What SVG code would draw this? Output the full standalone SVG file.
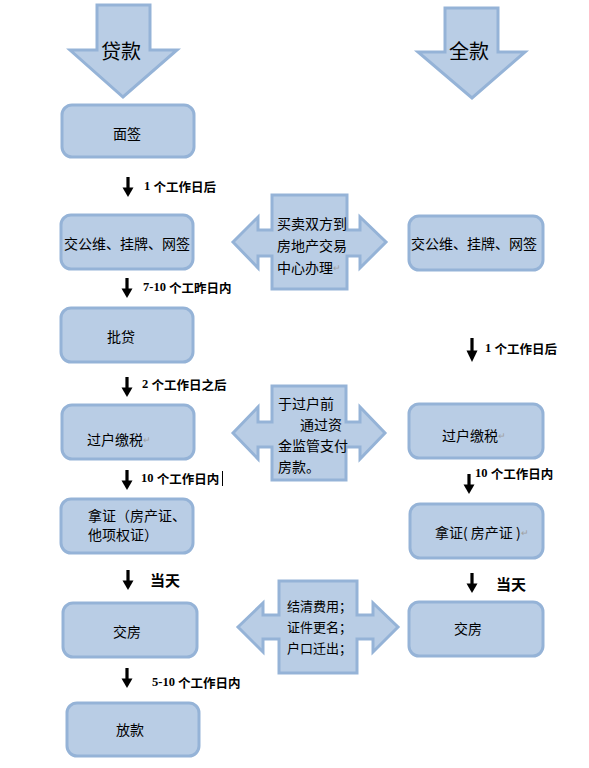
<svg xmlns="http://www.w3.org/2000/svg" width="589" height="768" viewBox="0 0 589 768">
<style>
.shape{fill:#b9cde5;stroke:#95b3d7;stroke-width:3;stroke-linejoin:miter}
.box{fill:#b9cde5;stroke:#95b3d7;stroke-width:3}
.t{font-family:"Noto Sans CJK SC","Noto Sans",sans-serif;font-size:14px;fill:#000;dominant-baseline:central}
.big{font-family:"Noto Sans CJK SC","Noto Sans",sans-serif;font-size:20px;fill:#000;dominant-baseline:central;text-anchor:middle}
.c{text-anchor:middle}
.lbl{font-family:"Noto Sans CJK SC","Noto Sans",sans-serif;font-size:12.5px;font-weight:bold;fill:#000;dominant-baseline:central}
.num{font-family:"Liberation Serif",serif;font-weight:bold}
.pm{fill:#a0a0a0;font-size:9px}
</style>
<defs>
<g id="darr">
<rect x="-1.6" y="0" width="3.2" height="12" fill="#000"/>
<polygon points="-5.5,10.5 5.5,10.5 0,20" fill="#000"/>
</g>
</defs>
<g id="loan-head">
<path class="shape" d="M97,5 L150,5 L150,50 L177,50 L123,97 L70,50 L97,50 Z"/>
<text class="big" x="121" y="50">贷款</text>
</g>
<g id="cash-head">
<path class="shape" d="M445,8 L498,8 L498,52 L525,52 L472,98 L418,52 L445,52 Z"/>
<text class="big" x="469" y="50">全款</text>
</g>
<g id="mianqian">
<rect class="box" x="62" y="105" width="132" height="52" rx="10"/>
<text class="t c" x="127" y="133">面签</text>
</g>
<g id="jiaogongwei-l">
<rect class="box" x="61" y="215" width="132" height="54" rx="10"/>
<text class="t c" x="127" y="243">交公维、挂牌、网签</text>
</g>
<g id="pidai">
<rect class="box" x="61" y="308" width="132" height="54" rx="10"/>
<text class="t c" x="121" y="336">批贷</text>
</g>
<g id="guohu-l">
<rect class="box" x="62" y="405" width="132" height="54" rx="10"/>
<text class="t" x="87" y="439">过户缴税<tspan class="pm">↵</tspan></text>
</g>
<g id="nazheng-l">
<rect class="box" x="61" y="499" width="132" height="54" rx="10"/>
<text class="t" x="88" y="515">拿证（房产证、</text>
<text class="t" x="88" y="534">他项权证）</text>
</g>
<g id="jiaofang-l">
<rect class="box" x="63" y="603" width="134" height="54" rx="10"/>
<text class="t c" x="127" y="631">交房</text>
</g>
<g id="fangkuan">
<rect class="box" x="67" y="703" width="132" height="53" rx="10"/>
<text class="t c" x="130" y="729">放款</text>
</g>
<g id="jiaogongwei-r">
<rect class="box" x="409" y="216" width="134" height="54" rx="10"/>
<text class="t c" x="474" y="243">交公维、挂牌、网签</text>
</g>
<g id="guohu-r">
<rect class="box" x="409" y="404" width="134" height="54" rx="10"/>
<text class="t" x="442" y="435">过户缴税<tspan class="pm">↵</tspan></text>
</g>
<g id="nazheng-r">
<rect class="box" x="410" y="504" width="133" height="54" rx="10"/>
<text class="t" x="435" y="532">拿证( 房产证 )<tspan class="pm">↵</tspan></text>
</g>
<g id="jiaofang-r">
<rect class="box" x="409" y="602" width="134" height="54" rx="10"/>
<text class="t c" x="468" y="628">交房</text>
</g>
<g id="callout-1">
<path class="shape" d="M233,242 L258,217 L258,230 L272,230 L272,195 L347,195 L347,230 L360,230 L360,217 L386,242 L360,268 L360,256 L347,256 L347,289 L272,289 L272,256 L258,256 L258,268 Z"/>
<text class="t" x="277" y="223">买卖双方到</text>
<text class="t" x="277" y="245">房地产交易</text>
<text class="t" x="277" y="267">中心办理<tspan class="pm">↵</tspan></text>
</g>
<g id="callout-2">
<path class="shape" d="M233,433 L258,407 L258,422 L272,422 L272,386 L346,386 L346,422 L360,422 L360,407 L385,433 L360,459 L360,447 L346,447 L346,480 L272,480 L272,447 L258,447 L258,459 Z"/>
<text class="t" x="278" y="403">于过户前</text>
<text class="t" x="342" y="424" text-anchor="end">通过资</text>
<text class="t" x="278" y="445">金监管支付</text>
<text class="t" x="278" y="466">房款。</text>
</g>
<g id="callout-3">
<path class="shape" d="M238,627 L263,603 L263,615 L279,615 L279,581 L357,581 L357,615 L373,615 L373,603 L398,627 L373,652 L373,639 L357,639 L357,673 L279,673 L279,639 L263,639 L263,652 Z"/>
<text class="t" x="287" y="605" style="font-size:13px">结清费用；</text>
<text class="t" x="287" y="626" style="font-size:13px">证件更名；</text>
<text class="t" x="287" y="647" style="font-size:13px">户口迁出；</text>
</g>
<g id="connectors">
<use href="#darr" transform="translate(128,177)"/>
<text class="lbl" x="144" y="186"><tspan class="num">1 </tspan>个工作日后</text>
<use href="#darr" transform="translate(127,278)"/>
<text class="lbl" x="143" y="287"><tspan class="num">7-10 </tspan>个工昨日内</text>
<use href="#darr" transform="translate(127,377)"/>
<text class="lbl" x="142" y="384"><tspan class="num">2 </tspan>个工作日之后</text>
<use href="#darr" transform="translate(127,470)"/>
<text class="lbl" x="141" y="478"><tspan class="num">10 </tspan>个工作日内</text>
<line x1="222.5" y1="471" x2="222.5" y2="486" stroke="#000" stroke-width="1"/>
<use href="#darr" transform="translate(128,570)"/>
<text class="lbl" x="150" y="579" style="font-size:15px">当天</text>
<use href="#darr" transform="translate(127,668)"/>
<text class="lbl" x="152" y="682"><tspan class="num">5-10 </tspan>个工作日内</text>
<use href="#darr" transform="translate(472,338) scale(1,1.2)"/>
<text class="lbl" x="485" y="348"><tspan class="num">1 </tspan>个工作日后</text>
<use href="#darr" transform="translate(469,474)"/>
<text class="lbl" x="475" y="473"><tspan class="num">10 </tspan>个工作日内</text>
<use href="#darr" transform="translate(472,573)"/>
<text class="lbl" x="496" y="583" style="font-size:15px">当天</text>
</g>
</svg>
